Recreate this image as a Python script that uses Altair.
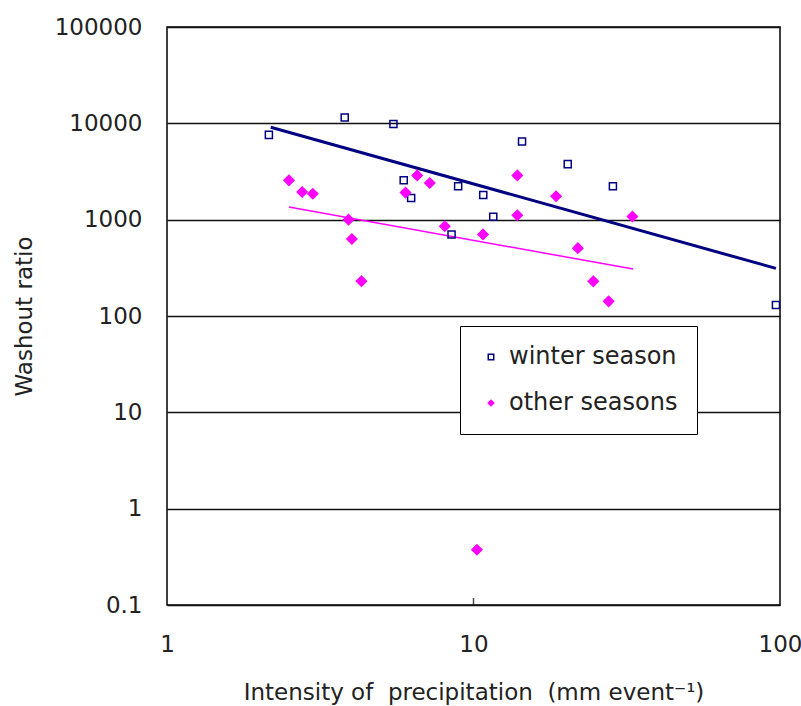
import altair as alt
import pandas as pd

# ---- data ----
series = ["winter season", "other seasons"]

winter_x = [2.15, 3.80, 5.48, 5.92, 6.26, 8.48, 8.91, 10.76, 11.6, 14.4, 20.3, 28.5, 97.0]
winter_y = [7590, 11500, 9860, 2560, 1680, 700, 2220, 1800, 1070, 6470, 3770, 2220, 130]

other_x = [2.50, 2.76, 2.99, 3.91, 4.01, 4.31, 6.00, 6.55, 7.20, 8.06, 10.26, 10.74,
           13.9, 13.9, 18.6, 21.9, 24.6, 27.6, 33.0]
other_y = [2560, 1940, 1860, 1000, 630, 230, 1910, 2880, 2400, 855, 0.375, 703,
           2880, 1110, 1750, 506, 229, 142, 1080]

winter_fit_x = [2.18, 97.0]
winter_fit_y = [9100, 312]
other_fit_x = [2.50, 33.2]
other_fit_y = [1350, 307]

x_ticks = [1, 10, 100]
y_ticks = [0.1, 1, 10, 100, 1000, 10000, 100000]

# ---- tables ----
pts = pd.DataFrame({
    "x": winter_x + other_x,
    "y": winter_y + other_y,
    "series": [series[0]] * len(winter_x) + [series[1]] * len(other_x),
})
wfit = pd.DataFrame({"x": winter_fit_x, "y": winter_fit_y})
ofit = pd.DataFrame({"x": other_fit_x, "y": other_fit_y})
tick_df = pd.DataFrame({"x": [x_ticks[1]], "y": [y_ticks[0]]})

FONT = "DejaVu Sans"
TXT = "#222222"

xscale = alt.Scale(type="log", domain=[1, 100], nice=False)
yscale = alt.Scale(type="log", domain=[0.1, 100000], nice=False)

xaxis = alt.Axis(values=x_ticks, format="~g",
                 title="Intensity of\u00a0 precipitation\u00a0 (mm event⁻¹)",
                 grid=False, labelPadding=28, titlePadding=25, labelFlush=False,
                 labelOverlap=False)
yaxis = alt.Axis(values=y_ticks, format="~g", title="Washout ratio", grid=True,
                 gridColor="#111111", gridWidth=1.5, labelPadding=25, titlePadding=18,
                 labelFlush=False, labelOverlap=False)

X = alt.X("x:Q", scale=xscale, axis=xaxis)
Y = alt.Y("y:Q", scale=yscale, axis=yaxis)

leg = alt.Legend(title=None, orient="none", legendX=293, legendY=299, padding=19,
                 rowPadding=22, symbolOffset=0, labelOffset=6, labelFont=FONT,
                 labelFontSize=24, labelColor=TXT, labelLimit=400, strokeColor="black",
                 fillColor="white", symbolSize=30, symbolStrokeWidth=1.5)

shape_enc = alt.Shape("series:N", scale=alt.Scale(domain=series, range=["square", "diamond"]), legend=leg)
stroke_enc = alt.Stroke("series:N", scale=alt.Scale(domain=series, range=["#000080", "#FF00FF"]), legend=leg)
fill_enc = alt.Fill("series:N", scale=alt.Scale(domain=series, range=["transparent", "#FF00FF"]), legend=leg)

winter_pts = alt.Chart(pts).transform_filter(
    alt.datum.series == series[0]
).mark_point(filled=True, strokeWidth=1.5, opacity=1, size=50).encode(
    x=X, y=Y, shape=shape_enc, stroke=stroke_enc, fill=fill_enc
)
other_pts = alt.Chart(pts).transform_filter(
    alt.datum.series == series[1]
).mark_point(filled=True, strokeWidth=1.5, opacity=1, size=100).encode(
    x=X, y=Y, shape=shape_enc, stroke=stroke_enc, fill=fill_enc
)

wline = alt.Chart(wfit).mark_line(color="#000080", strokeWidth=3).encode(x=X, y=Y)
oline = alt.Chart(ofit).mark_line(color="#FF00FF", strokeWidth=1.5).encode(x=X, y=Y)

tick = alt.Chart(tick_df).mark_tick(orient="vertical", size=14, thickness=1.5,
                                   color="black", clip=True).encode(x=X, y=Y)

chart = alt.layer(wline, oline, winter_pts, other_pts, tick).properties(
    width=613, height=578,
    background="white",
    autosize=alt.AutoSizeParams(type="none"),
    padding={"left": 167, "top": 27, "right": 21, "bottom": 101},
).configure_view(
    stroke="black", strokeWidth=1.5
).configure_axis(
    labelFont=FONT, labelFontSize=23, labelColor=TXT,
    titleFont=FONT, titleFontSize=23, titleFontWeight="normal", titleColor=TXT,
    ticks=False, tickSize=0, domain=False,
)

chart.save("out.html", embed_options={"renderer": "svg", "actions": False})
